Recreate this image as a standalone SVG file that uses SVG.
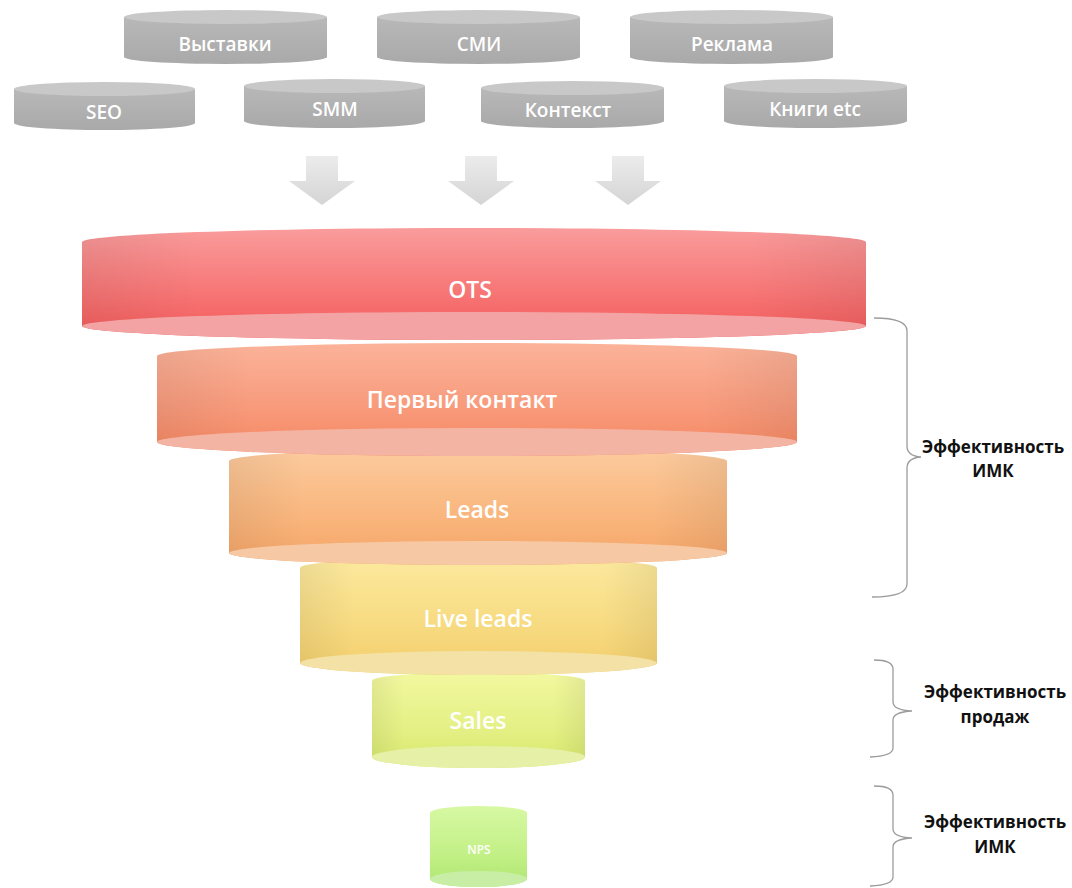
<svg xmlns="http://www.w3.org/2000/svg" width="1072" height="888" viewBox="0 0 1072 888">
<defs>
<linearGradient id="gGray" x1="0" y1="0" x2="0" y2="1"><stop offset="0" stop-color="#b8b8b8"/><stop offset="1" stop-color="#a9a9a9"/></linearGradient>
<linearGradient id="gArrow" x1="0" y1="0" x2="0" y2="1"><stop offset="0" stop-color="#ececec"/><stop offset="1" stop-color="#d4d4d4"/></linearGradient>
<linearGradient id="g1" x1="0" y1="0" x2="0" y2="1"><stop offset="0" stop-color="#fa9c9c"/><stop offset="0.6" stop-color="#f77474"/><stop offset="1" stop-color="#f35858"/></linearGradient>
<linearGradient id="g2" x1="0" y1="0" x2="0" y2="1"><stop offset="0" stop-color="#fbb39a"/><stop offset="0.6" stop-color="#f8997a"/><stop offset="1" stop-color="#f5865f"/></linearGradient>
<linearGradient id="g3" x1="0" y1="0" x2="0" y2="1"><stop offset="0" stop-color="#fccb9e"/><stop offset="0.6" stop-color="#f9b57c"/><stop offset="1" stop-color="#f5a466"/></linearGradient>
<linearGradient id="g4" x1="0" y1="0" x2="0" y2="1"><stop offset="0" stop-color="#fce99e"/><stop offset="0.6" stop-color="#f7da80"/><stop offset="1" stop-color="#f2cd6a"/></linearGradient>
<linearGradient id="g5" x1="0" y1="0" x2="0" y2="1"><stop offset="0" stop-color="#f2f8a0"/><stop offset="0.6" stop-color="#e4f084"/><stop offset="1" stop-color="#d6e86c"/></linearGradient>
<linearGradient id="g6" x1="0" y1="0" x2="0" y2="1"><stop offset="0" stop-color="#d6f8a2"/><stop offset="0.6" stop-color="#c2f086"/><stop offset="1" stop-color="#aee670"/></linearGradient>
<linearGradient id="shade" x1="0" y1="0" x2="1" y2="0"><stop offset="0" stop-color="#000" stop-opacity="0.06"/><stop offset="0.15" stop-color="#000" stop-opacity="0"/><stop offset="0.85" stop-color="#000" stop-opacity="0"/><stop offset="1" stop-color="#000" stop-opacity="0.06"/></linearGradient>
</defs>
<style>
.gl{font-family:"Open Sans","Noto Sans","DejaVu Sans",sans-serif;font-size:19px;font-weight:600;fill:#ffffff;text-anchor:middle}
.fl{font-family:"Open Sans","Noto Sans","DejaVu Sans",sans-serif;font-size:23px;font-weight:600;fill:#ffffff;text-anchor:middle}
.bt{font-family:"Open Sans","Noto Sans","DejaVu Sans",sans-serif;font-size:17px;font-weight:700;fill:#111111;text-anchor:middle}
.gtop{fill:#c8c8c8}
.br{fill:none;stroke:#9c9c9c;stroke-width:1.3}
.arr{fill:url(#gArrow)}
</style>
<rect width="1072" height="888" fill="#ffffff"/>

<g id="src-vystavki">
<path d="M124 17 L124 57 A101.5 7 0 0 0 327 57 L327 17 Z" fill="url(#gGray)"/>
<ellipse cx="225.5" cy="17" rx="101.5" ry="7" class="gtop"/>
<text x="225" y="51" class="gl">Выставки</text>
</g>
<g id="src-smi">
<path d="M377 17 L377 57 A101.5 7 0 0 0 580 57 L580 17 Z" fill="url(#gGray)"/>
<ellipse cx="478.5" cy="17" rx="101.5" ry="7" class="gtop"/>
<text x="479" y="51" class="gl">СМИ</text>
</g>
<g id="src-reklama">
<path d="M630 17 L630 57 A101.5 7 0 0 0 833 57 L833 17 Z" fill="url(#gGray)"/>
<ellipse cx="731.5" cy="17" rx="101.5" ry="7" class="gtop"/>
<text x="732" y="51" class="gl">Реклама</text>
</g>
<g id="src-seo">
<path d="M14 89 L14 123 A90.5 7 0 0 0 195 123 L195 89 Z" fill="url(#gGray)"/>
<ellipse cx="104.5" cy="89" rx="90.5" ry="7" class="gtop"/>
<text x="104" y="119" class="gl">SEO</text>
</g>
<g id="src-smm">
<path d="M244 86 L244 121 A90.5 7 0 0 0 425 121 L425 86 Z" fill="url(#gGray)"/>
<ellipse cx="334.5" cy="86" rx="90.5" ry="7" class="gtop"/>
<text x="335" y="116" class="gl">SMM</text>
</g>
<g id="src-kontekst">
<path d="M481 88 L481 121 A91.5 7 0 0 0 664 121 L664 88 Z" fill="url(#gGray)"/>
<ellipse cx="572.5" cy="88" rx="91.5" ry="7" class="gtop"/>
<text x="568" y="117" class="gl">Контекст</text>
</g>
<g id="src-knigi">
<path d="M724 86 L724 121 A91.5 7 0 0 0 907 121 L907 86 Z" fill="url(#gGray)"/>
<ellipse cx="815.5" cy="86" rx="91.5" ry="7" class="gtop"/>
<text x="815" y="116" class="gl">Книги etc</text>
</g>

<g id="connectors">
<path class="arr" d="M306 156 L338 156 L338 181 L355 181 L322 205 L289 181 L306 181 Z"/>
<path class="arr" d="M465 156 L497 156 L497 181 L514 181 L481 205 L448 181 L465 181 Z"/>
<path class="arr" d="M612 156 L644 156 L644 181 L661 181 L628 205 L595 181 L612 181 Z"/>
<path class="br" d="M874 318 Q907 318 907 331 L907 446 Q907 456 921 457 Q907 458 907 468 L907 584 Q907 597 872 597"/>
<path class="br" d="M874 660 Q893 660 893 669 L893 702 Q893 710 912 711 Q893 712 893 720 L893 748 Q893 756 870 757"/>
<path class="br" d="M874 786 Q893 786 893 795 L893 829 Q893 837 912 838 Q893 839 893 847 L893 877 Q893 885 870 886"/>
</g>

<g id="nps">
<path d="M430 813 A48.5 7 0 0 1 527 813 L527 879 A48.5 8 0 0 1 430 879 Z" fill="url(#g6)"/>
<ellipse cx="478.5" cy="879" rx="48.5" ry="8" fill="#c8eea6"/>
<text x="479" y="854" class="fl" style="font-size:12px">NPS</text>
</g>
<g id="sales">
<path d="M372 681 A106.5 9 0 0 1 585 681 L585 757 A106.5 11 0 0 1 372 757 Z" fill="url(#g5)"/>
<path d="M372 681 A106.5 9 0 0 1 585 681 L585 757 A106.5 11 0 0 1 372 757 Z" fill="url(#shade)"/>
<ellipse cx="478.5" cy="757" rx="106.5" ry="11" fill="#e6f0a6"/>
<text x="478" y="729" class="fl">Sales</text>
</g>
<g id="live-leads">
<path d="M300 568 A178.5 11 0 0 1 657 568 L657 663 A178.5 12 0 0 1 300 663 Z" fill="url(#g4)"/>
<path d="M300 568 A178.5 11 0 0 1 657 568 L657 663 A178.5 12 0 0 1 300 663 Z" fill="url(#shade)"/>
<ellipse cx="478.5" cy="663" rx="178.5" ry="12" fill="#f3e1a6"/>
<text x="478" y="627" class="fl">Live leads</text>
</g>
<g id="leads">
<path d="M229 461 A249 12 0 0 1 727 461 L727 553 A249 12 0 0 1 229 553 Z" fill="url(#g3)"/>
<path d="M229 461 A249 12 0 0 1 727 461 L727 553 A249 12 0 0 1 229 553 Z" fill="url(#shade)"/>
<ellipse cx="478" cy="553" rx="249" ry="12" fill="#f6c8a4"/>
<text x="477" y="518" class="fl">Leads</text>
</g>
<g id="pervyi-kontakt">
<path d="M157 356 A320 13 0 0 1 797 356 L797 442 A320 14 0 0 1 157 442 Z" fill="url(#g2)"/>
<path d="M157 356 A320 13 0 0 1 797 356 L797 442 A320 14 0 0 1 157 442 Z" fill="url(#shade)"/>
<ellipse cx="477" cy="442" rx="320" ry="14" fill="#f4b4a4"/>
<text x="462" y="408" class="fl">Первый контакт</text>
</g>
<g id="ots">
<path d="M82 242 A392 14 0 0 1 866 242 L866 326 A392 14 0 0 1 82 326 Z" fill="url(#g1)"/>
<path d="M82 242 A392 14 0 0 1 866 242 L866 326 A392 14 0 0 1 82 326 Z" fill="url(#shade)"/>
<ellipse cx="474" cy="326" rx="392" ry="14" fill="#f3a3a3"/>
<text x="470" y="298" class="fl">OTS</text>
</g>

<g id="label-imk-1">
<text x="993" y="453" class="bt">Эффективность</text>
<text x="993" y="477" class="bt">ИМК</text>
</g>
<g id="label-sales">
<text x="995" y="698" class="bt">Эффективность</text>
<text x="995" y="723" class="bt">продаж</text>
</g>
<g id="label-imk-2">
<text x="995" y="828" class="bt">Эффективность</text>
<text x="995" y="853" class="bt">ИМК</text>
</g>
</svg>
